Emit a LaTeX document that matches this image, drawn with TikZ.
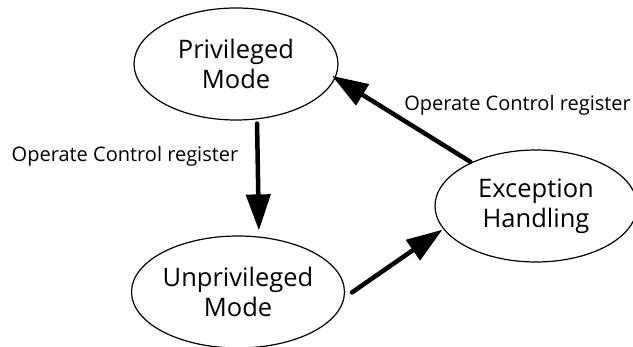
\documentclass[tikz,border=0pt]{standalone}
\usepackage{fontspec}
\setmainfont{Open Sans}
\usetikzlibrary{shapes.geometric, arrows.meta}

\tikzset{
  state/.style={draw, ellipse, line width=1.2pt, minimum width=204pt, minimum height=112pt,
    align=center, font=\fontsize{25.5}{30}\selectfont, inner sep=0pt},
  bigarrow/.style={line width=4.5pt, line cap=round,
    -{Triangle[width=24pt, length=36pt]}},
  lbl/.style={font=\fontsize{20}{24}\selectfont}
}

\begin{document}
\begin{tikzpicture}[x=1pt, y=-1pt]
\useasboundingbox (0,0) rectangle (633,347);

% the three states
\node[state] (priv) at (236,64) {Privileged\\Mode};
\node[state] (unpriv) at (238,292) {Unprivileged\\Mode};
\node[state, minimum width=202pt] (exc) at (536,206) {Exception\\Handling};

% transitions
\draw[bigarrow, shorten <=3pt, shorten >=5pt] ([xshift=21pt]priv.south) -- ([xshift=21pt]unpriv.north);
\draw[bigarrow, shorten <=9pt, shorten >=1pt] (unpriv.-3) -- (exc.194);
\draw[bigarrow, shorten <=1pt, shorten >=-4pt] (exc.146) -- (priv.-8);

% labels
\node[lbl] (lblA) at (125,156) {Operate Control register};
\node[lbl, anchor=east, inner sep=1pt] (lblB) at (632,105) {Operate Control register};
\end{tikzpicture}
\end{document}
